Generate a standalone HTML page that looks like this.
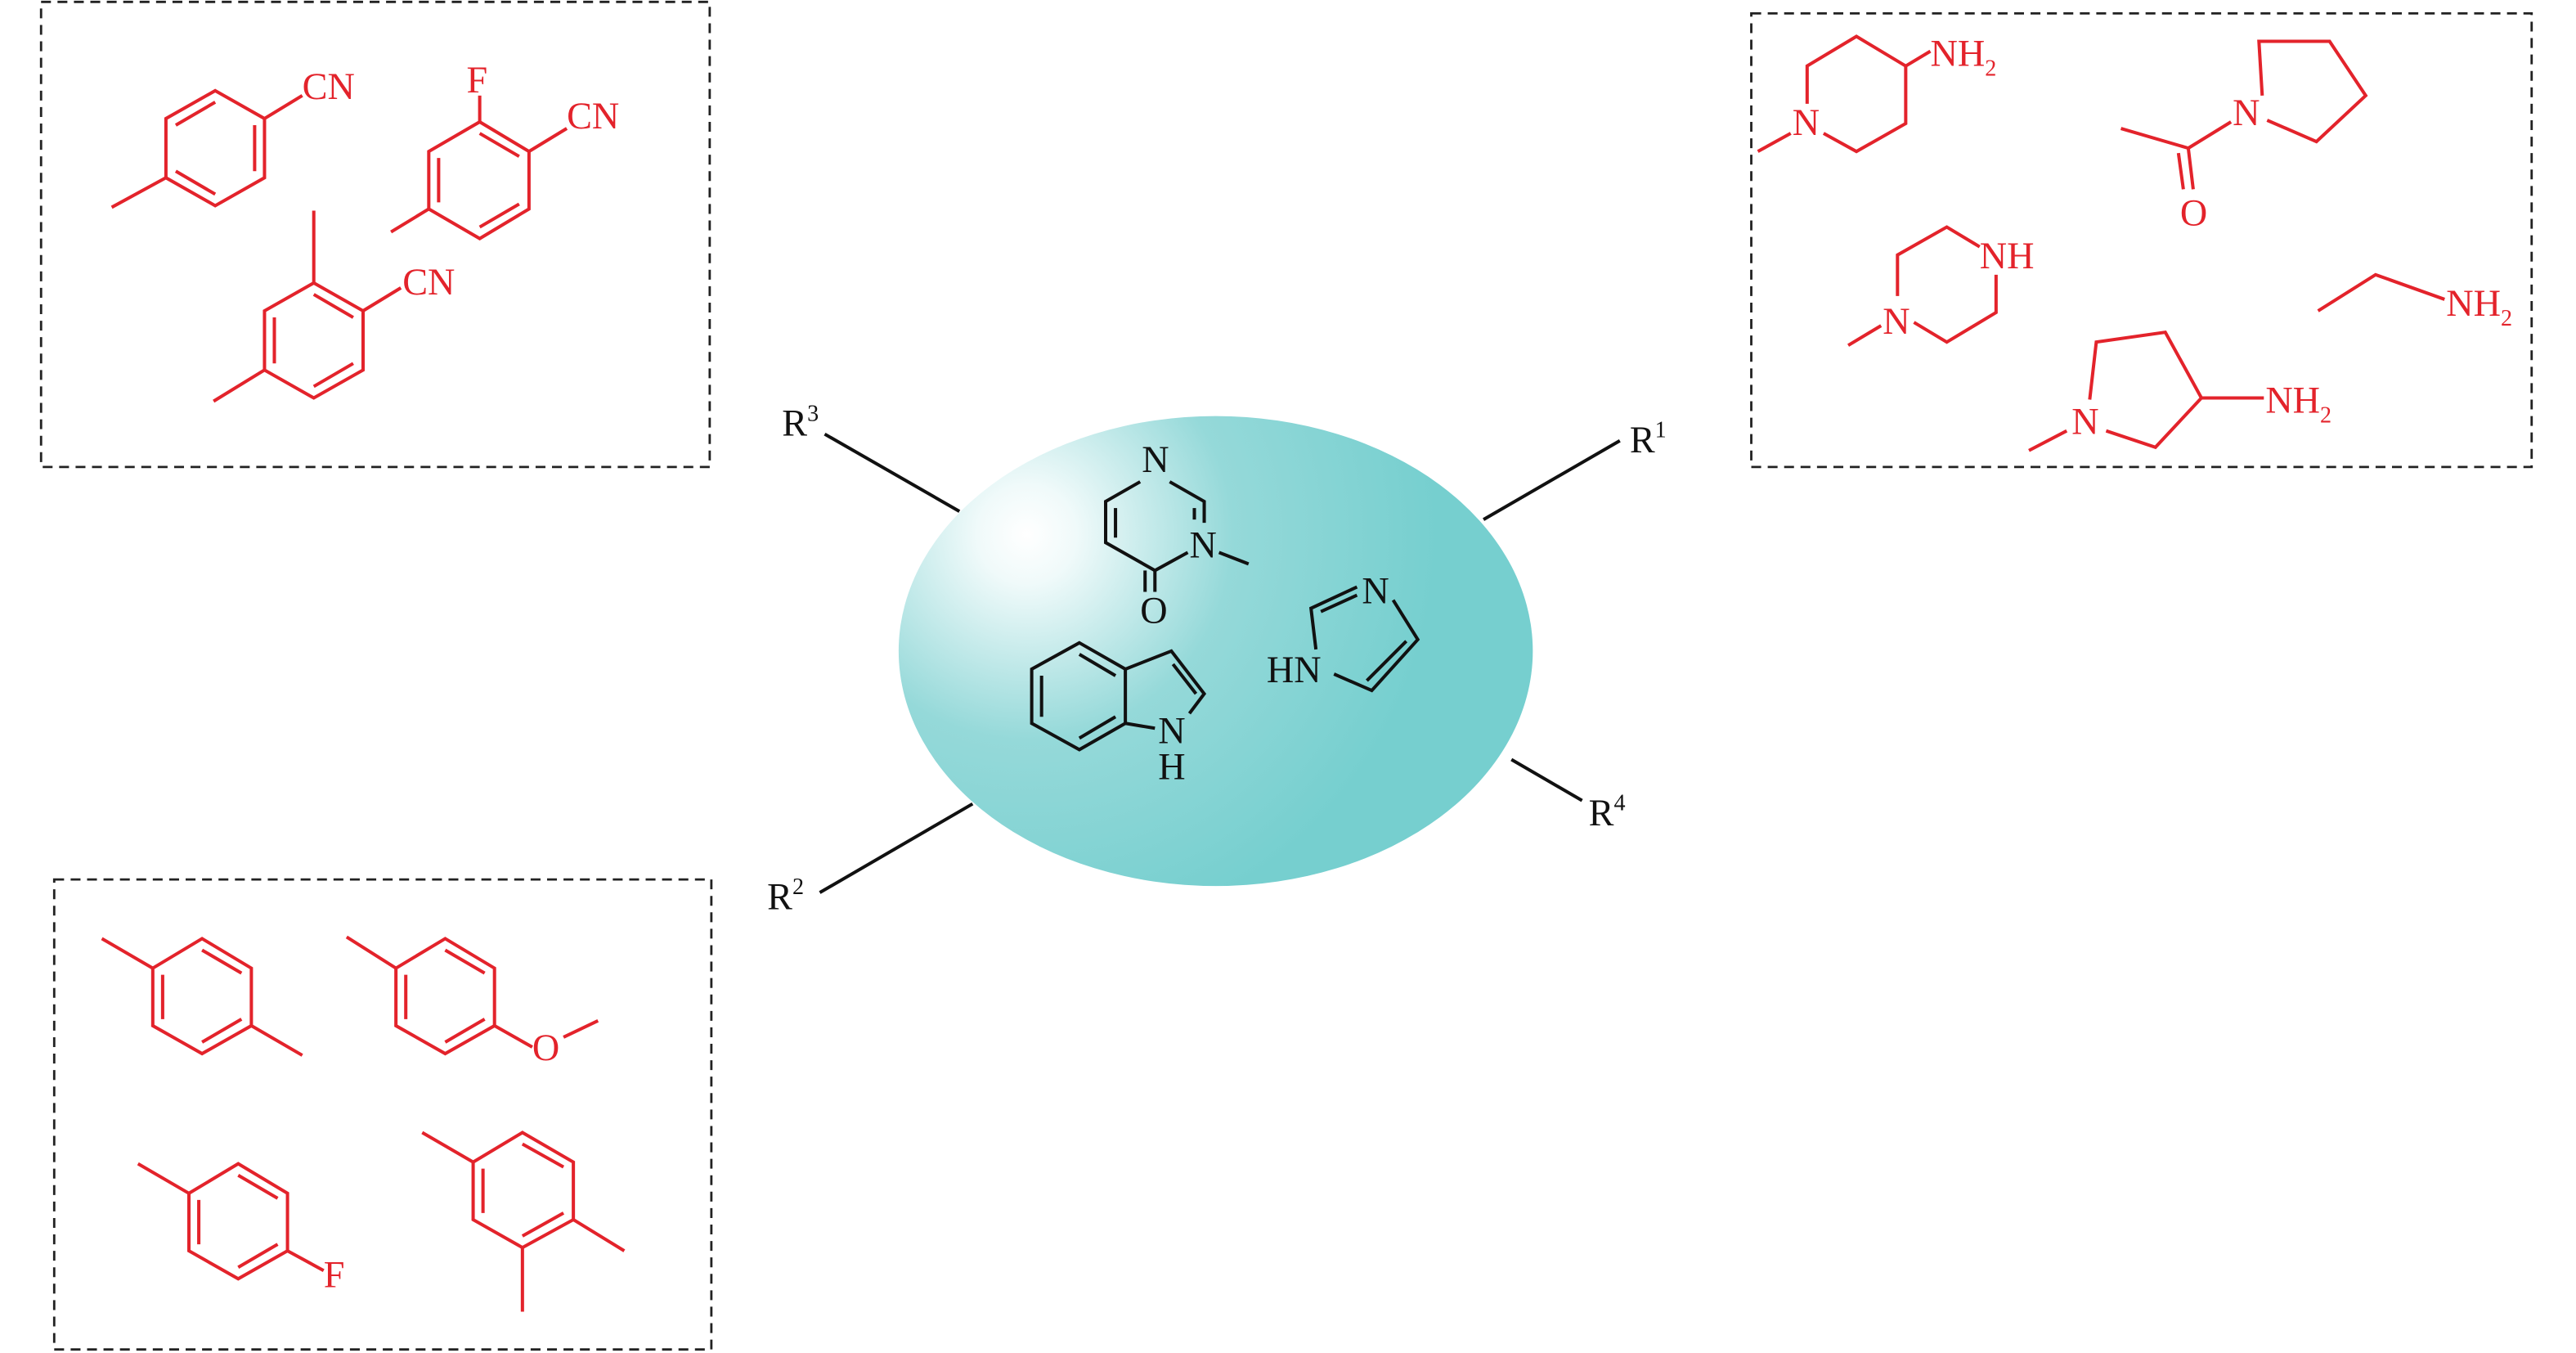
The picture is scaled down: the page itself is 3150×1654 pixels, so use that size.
<!DOCTYPE html>
<html><head><meta charset="utf-8"><style>
html,body{margin:0;padding:0;background:#fff;}
svg{display:block;}
text{font-family:"Liberation Serif",serif;font-size:23px;}
.r{stroke:#e3232b;fill:none;stroke-width:2;}
.k{stroke:#111;fill:none;stroke-width:2;}
.rt{fill:#e3232b;}
.kt{fill:#111;}
.box{fill:none;stroke:#222;stroke-width:1.4;stroke-dasharray:6 4;}
</style></head><body>
<svg width="3150" height="1654" viewBox="0 0 1568 823" xmlns="http://www.w3.org/2000/svg">
<defs>
<radialGradient id="g" cx="625" cy="325" r="250" gradientUnits="userSpaceOnUse">
<stop offset="0" stop-color="#ffffff"/>
<stop offset="0.12" stop-color="#f0fafa"/>
<stop offset="0.5" stop-color="#95d9d9"/>
<stop offset="1" stop-color="#76cfcf"/>
</radialGradient>
</defs>
<rect x="25" y="1" width="407" height="283" class="box"/>
<rect x="1066" y="8" width="475" height="276" class="box"/>
<rect x="33" y="535" width="400" height="286" class="box"/>

<ellipse cx="740" cy="396" rx="193" ry="143" fill="url(#g)"/>

<g class="k">
<line x1="502" y1="264" x2="584" y2="311"/>
<line x1="903" y1="316" x2="986" y2="268"/>
<line x1="499" y1="543" x2="592" y2="489"/>
<line x1="920" y1="462" x2="963" y2="487"/>
</g>
<text x="476" y="265" class="kt">R<tspan dy="-9" font-size="14">3</tspan></text>
<text x="992" y="275" class="kt">R<tspan dy="-9" font-size="14">1</tspan></text>
<text x="467" y="553" class="kt">R<tspan dy="-9" font-size="14">2</tspan></text>
<text x="967" y="502" class="kt">R<tspan dy="-9" font-size="14">4</tspan></text>

<g class="r">
<polygon points="131,55 161,72 161,108 131,125 101,108 101,72"/>
<line x1="107" y1="76" x2="131" y2="62"/><line x1="155" y1="76" x2="155" y2="104"/><line x1="107" y1="104" x2="131" y2="118"/>
<line x1="101" y1="108" x2="68" y2="126"/><line x1="161" y1="72" x2="184" y2="58"/>

<polygon points="292,74 322,92 322,127 292,145 261,127 261,92"/>
<line x1="267" y1="96" x2="267" y2="123"/><line x1="292" y1="138" x2="316" y2="124"/><line x1="292" y1="81" x2="316" y2="95"/>
<line x1="292" y1="74" x2="292" y2="58"/><line x1="261" y1="127" x2="238" y2="141"/><line x1="322" y1="92" x2="345" y2="78"/>

<polygon points="191,172 221,189 221,225 191,242 161,225 161,189"/>
<line x1="167" y1="193" x2="167" y2="221"/><line x1="191" y1="235" x2="215" y2="221"/><line x1="191" y1="179" x2="215" y2="193"/>
<line x1="191" y1="172" x2="191" y2="128"/><line x1="161" y1="225" x2="130" y2="244"/><line x1="221" y1="189" x2="244" y2="175"/>
</g>
<text x="184" y="60" class="rt">CN</text>
<text x="284" y="56" class="rt">F</text>
<text x="345" y="78" class="rt">CN</text>
<text x="245" y="179" class="rt">CN</text>

<g class="r">
<polyline points="1160,40 1130,22 1100,40 1100,63"/>
<polyline points="1160,40 1160,75 1130,92 1110,81"/>
<line x1="1160" y1="40" x2="1175" y2="31"/>
<line x1="1090" y1="81" x2="1070" y2="92"/>

<polyline points="1377,58 1375,25 1418,25 1440,58 1410,86 1380,73"/>
<line x1="1358" y1="74" x2="1332" y2="90"/><line x1="1332" y1="90" x2="1291" y2="78"/>
<line x1="1332" y1="90" x2="1335" y2="115"/><line x1="1326" y1="93" x2="1329" y2="115"/>

<polyline points="1205,150 1185,138 1155,155 1155,180"/>
<polyline points="1215,167 1215,190 1185,208 1165,196"/>
<line x1="1145" y1="198" x2="1125" y2="210"/>

<polyline points="1411,189 1446,167 1488,182"/>

<polyline points="1272,243 1276,208 1318,202 1340,242 1312,272 1282,262"/>
<line x1="1340" y1="242" x2="1378" y2="242"/>
<line x1="1258" y1="262" x2="1235" y2="274"/>
</g>
<text x="1091" y="82" class="rt">N</text>
<text x="1175" y="40" class="rt">NH<tspan dy="6" font-size="14">2</tspan></text>
<text x="1359" y="76" class="rt">N</text>
<text x="1327" y="137" class="rt">O</text>
<text x="1205" y="163" class="rt">NH</text>
<text x="1146" y="203" class="rt">N</text>
<text x="1489" y="192" class="rt">NH<tspan dy="6" font-size="14">2</tspan></text>
<text x="1261" y="264" class="rt">N</text>
<text x="1379" y="251" class="rt">NH<tspan dy="6" font-size="14">2</tspan></text>

<g class="r">
<polygon points="123,571 153,589 153,624 123,641 93,624 93,589"/>
<line x1="99" y1="593" x2="99" y2="620"/><line x1="123" y1="634" x2="147" y2="620"/><line x1="123" y1="578" x2="147" y2="592"/>
<line x1="93" y1="589" x2="62" y2="571"/><line x1="153" y1="624" x2="184" y2="642"/>

<polygon points="271,571 301,589 301,624 271,641 241,624 241,589"/>
<line x1="247" y1="593" x2="247" y2="620"/><line x1="271" y1="634" x2="295" y2="620"/><line x1="271" y1="578" x2="295" y2="592"/>
<line x1="241" y1="589" x2="211" y2="570"/><line x1="301" y1="624" x2="324" y2="637"/><line x1="343" y1="631" x2="364" y2="621"/>

<polygon points="145,708 175,726 175,761 145,778 115,761 115,726"/>
<line x1="121" y1="730" x2="121" y2="757"/><line x1="145" y1="771" x2="169" y2="757"/><line x1="145" y1="715" x2="169" y2="729"/>
<line x1="115" y1="726" x2="84" y2="708"/><line x1="175" y1="761" x2="197" y2="773"/>

<polygon points="318,689 349,707 349,742 318,759 288,742 288,707"/>
<line x1="294" y1="711" x2="294" y2="738"/><line x1="318" y1="752" x2="343" y2="738"/><line x1="318" y1="696" x2="343" y2="710"/>
<line x1="288" y1="707" x2="257" y2="689"/><line x1="349" y1="742" x2="380" y2="761"/><line x1="318" y1="759" x2="318" y2="798"/>
</g>
<text x="324" y="645" class="rt">O</text>
<text x="197" y="783" class="rt">F</text>

<g class="k">
<polyline points="694,293 673,305 673,330 703,347 723,336"/>
<line x1="679" y1="309" x2="679" y2="327"/>
<polyline points="712,293 733,305 733,318"/>
<line x1="727" y1="309" x2="727" y2="316"/>
<line x1="742" y1="336" x2="760" y2="343"/>
<line x1="703" y1="347" x2="703" y2="360"/><line x1="697" y1="347" x2="697" y2="360"/>

<polygon points="657,391 685,407 685,440 657,456 628,440 628,407"/>
<line x1="634" y1="411" x2="634" y2="436"/><line x1="657" y1="449" x2="679" y2="436"/><line x1="657" y1="398" x2="679" y2="411"/>
<polyline points="685,407 713,396 733,422 724,434"/>
<line x1="714" y1="404" x2="728" y2="422"/>
<line x1="703" y1="443" x2="685" y2="440"/>

<polyline points="848,365 863,389 835,420 812,410"/>
<line x1="856" y1="390" x2="832" y2="414"/>
<polyline points="801,395 798,370 826,357"/>
<line x1="804" y1="372" x2="826" y2="362"/>
</g>
<text x="695" y="287" class="kt">N</text>
<text x="724" y="339" class="kt">N</text>
<text x="694" y="379" class="kt">O</text>
<text x="705" y="452" class="kt">N</text>
<text x="705" y="474" class="kt">H</text>
<text x="829" y="367" class="kt">N</text>
<text x="771" y="415" class="kt">HN</text>
</svg>
</body></html>
